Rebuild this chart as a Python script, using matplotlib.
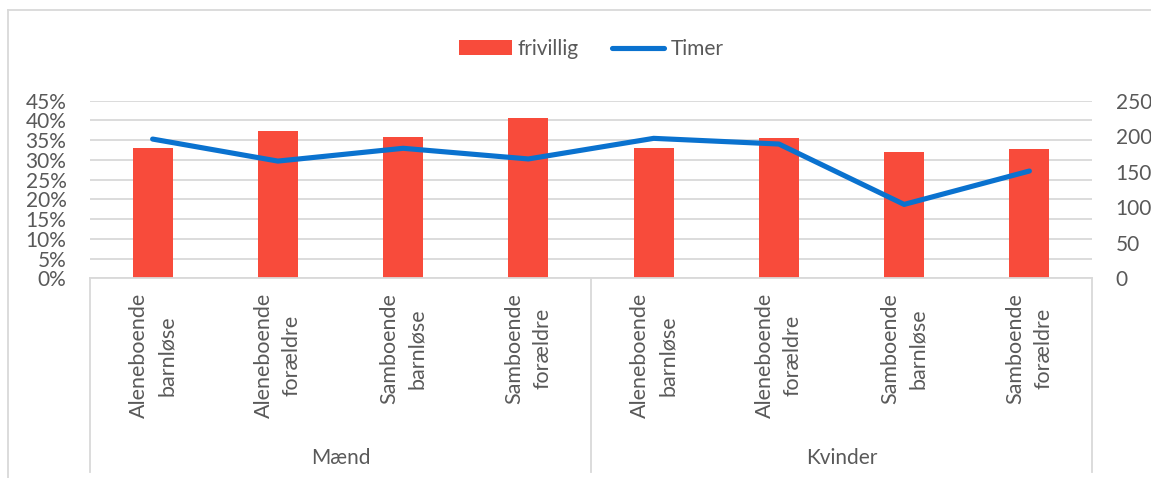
import matplotlib.pyplot as plt
from matplotlib.lines import Line2D
from matplotlib.ticker import FuncFormatter

plt.rcParams['font.family'] = ['Lato', 'DejaVu Sans']

# chart data
groups = ["Mænd", "Kvinder"]
categories = ["Aleneboende\nbarnløse", "Aleneboende\nforældre",
              "Samboende\nbarnløse", "Samboende\nforældre"] * 2
frivillig = [0.329, 0.373, 0.357, 0.407, 0.329, 0.355, 0.319, 0.327]
timer = [196, 165, 183, 168, 197, 189, 104, 151]

bar_color = "#F84B3B"
line_color = "#0A72CF"
grid_color = "#D9D9D9"
text_color = "#595959"

fig = plt.figure(figsize=(11.51, 4.78), dpi=100)
W, H = 1151, 478
left, right, top, bottom = 90, 1092, 100.7, 278.3
ax = fig.add_axes([left / W, 1 - bottom / H, (right - left) / W, (bottom - top) / H])
ax2 = ax.twinx()

x = list(range(len(categories)))
bars = ax.bar(x, frivillig, width=0.32, color=bar_color, zorder=2, label="frivillig")
line, = ax2.plot(x, timer, color=line_color, lw=3.7, solid_capstyle='round',
                 solid_joinstyle='round', label="Timer")

ax.set_xlim(-0.5, len(categories) - 0.5)
ax.set_ylim(0, 0.45)
ax.set_yticks([i * 0.05 for i in range(10)])
ax.yaxis.set_major_formatter(FuncFormatter(lambda v, p: f"{round(v * 100)}%"))
ax2.set_ylim(0, 250)
ax2.set_yticks(range(0, 251, 50))

ax.grid(axis='y', color=grid_color, lw=1.3, zorder=0)
ax.set_axisbelow(True)
for a in (ax, ax2):
    for s in a.spines.values():
        s.set_visible(False)
    a.tick_params(axis='y', length=0, labelsize=15, labelcolor=text_color, pad=17)
ax.spines['bottom'].set_visible(True)
ax.spines['bottom'].set_color(grid_color)
ax.spines['bottom'].set_linewidth(1.3)
ax.set_xticks([])

# category labels, rotated, two lines each
tr = ax.get_xaxis_transform()
axh = bottom - top
for xi, lab in zip(x, categories):
    ax.text(xi, -(293 - bottom) / axh, lab, rotation=90, ha='center', va='top',
            multialignment='center', linespacing=1.5, fontsize=15.5,
            color=text_color, transform=tr)

# group labels and separators
n = len(categories) // len(groups)
for gi, g in enumerate(groups):
    ax.text(gi * n + (n - 1) / 2, -(458 - bottom) / axh, g, ha='center', va='center',
            fontsize=15, color=text_color, transform=tr)
for sx in range(0, len(categories) + 1, n):
    ax.plot([sx - 0.5, sx - 0.5], [0, -(472 - bottom) / axh], color=grid_color,
            lw=1.3, transform=tr, clip_on=False)

fig.legend(handles=[bars, line], loc='center', bbox_to_anchor=(591.5 / W, 1 - 49 / H),
           ncol=2, frameon=False, fontsize=15, handlelength=2.5, handletextpad=0.3,
           columnspacing=1.6, labelcolor=text_color)

# chart area border
fig.add_artist(Line2D([8 / W, 8 / W], [1 - 10 / H, 0], color=grid_color, lw=1.3))
fig.add_artist(Line2D([8 / W, 1], [1 - 10 / H, 1 - 10 / H], color=grid_color, lw=1.3))

fig.savefig("out.png", dpi=100)
